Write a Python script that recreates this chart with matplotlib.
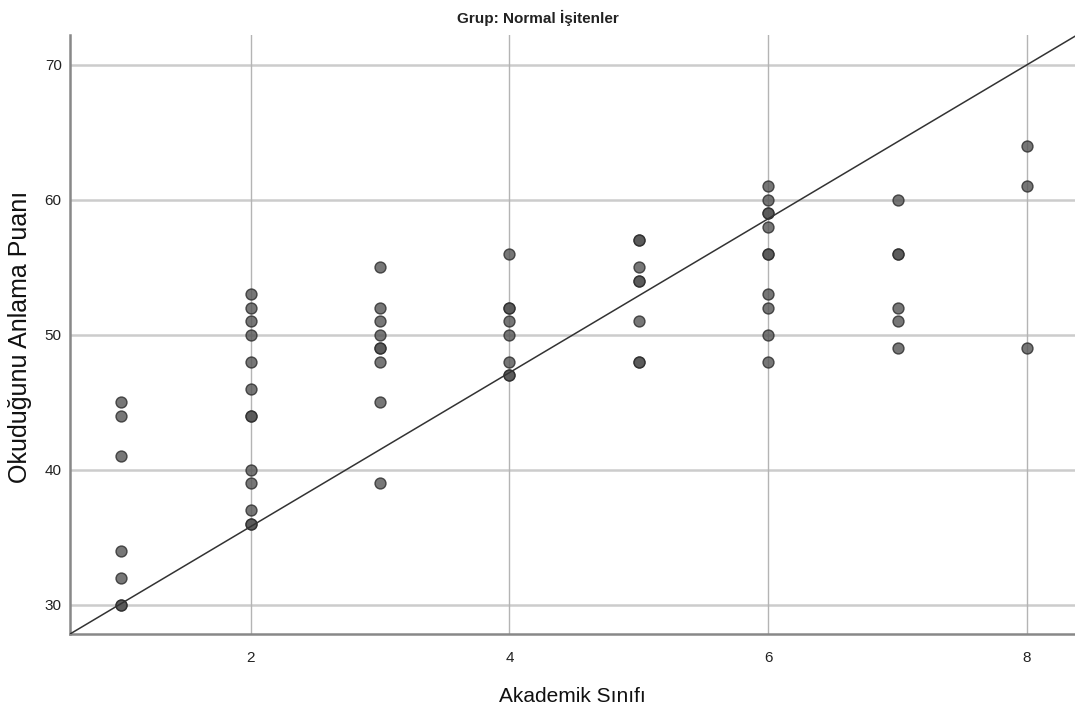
import numpy as np
import matplotlib.pyplot as plt

plt.rcParams["font.family"] = ["Liberation Sans", "DejaVu Sans"]

# --- Datos ---
sinif = [1, 1, 1, 1, 1, 1, 1,
         2, 2, 2, 2, 2, 2, 2, 2, 2, 2, 2, 2, 2,
         3, 3, 3, 3, 3, 3, 3, 3, 3,
         4, 4, 4, 4, 4, 4, 4, 4,
         5, 5, 5, 5, 5, 5, 5, 5,
         6, 6, 6, 6, 6, 6, 6, 6, 6, 6, 6,
         7, 7, 7, 7, 7, 7,
         8, 8, 8]
puan = [45, 44, 41, 34, 32, 30, 30,
        53, 52, 51, 50, 48, 46, 44, 44, 40, 39, 37, 36, 36,
        55, 52, 51, 50, 49, 49, 48, 45, 39,
        56, 52, 52, 51, 50, 48, 47, 47,
        57, 57, 55, 54, 54, 51, 48, 48,
        61, 60, 59, 59, 58, 56, 56, 53, 52, 50, 48,
        60, 56, 56, 52, 51, 49,
        64, 61, 49]
fit_intercept = 24.4
fit_slope = 5.7

x_ticks = [2, 4, 6, 8]
y_ticks = [30, 40, 50, 60, 70]
x_lim = (0.605, 8.37)
y_lim = (27.85, 72.2)

fig = plt.figure(figsize=(10.75, 7.13), dpi=100)
ax = fig.add_axes([0.0651, 0.1108, 0.9349, 0.8401])

ax.set_xlim(*x_lim)
ax.set_ylim(*y_lim)
ax.set_xticks(x_ticks)
ax.set_yticks(y_ticks)

for yv in y_ticks:
    ax.axhline(yv, color="#cccccc", lw=1.8, zorder=0)
for xv in x_ticks:
    ax.axvline(xv, color="#b4b4b4", lw=1.0, zorder=0)

ax.scatter(sinif, puan, s=62, facecolor="#555555", edgecolor="#2a2a2a",
           linewidth=1.0, alpha=0.8, zorder=3)

xs = np.array(x_lim)
ax.plot(xs, fit_intercept + fit_slope * xs, color="#333333", lw=1.1, zorder=4)

for side in ["top", "right"]:
    ax.spines[side].set_visible(False)
for side in ["left", "bottom"]:
    ax.spines[side].set_color("#888888")
    ax.spines[side].set_linewidth(1.8)

ax.tick_params(length=0, labelsize=11, colors="#222222", pad=6)
ax.tick_params(axis="x", pad=12)

fig.text(0.5, 0.975, "Grup: Normal İşitenler", ha="center", va="center",
         fontsize=11, fontweight="bold", color="#222222")
ax.set_xlabel("Akademik Sınıfı", fontsize=15, color="#111111", labelpad=16)
ax.set_ylabel("Okuduğunu Anlama Puanı", fontsize=18, color="#111111")
ax.yaxis.set_label_coords(-0.038, 0.496)

fig.savefig("out.png", dpi=100)
